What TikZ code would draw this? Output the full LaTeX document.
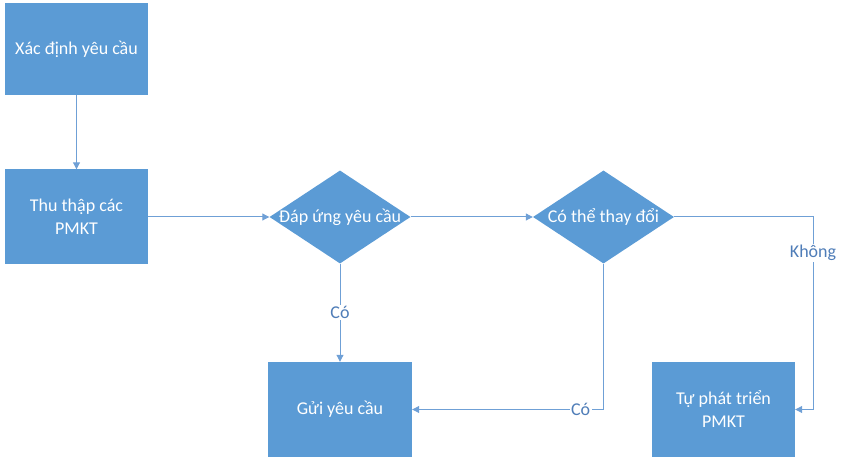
\documentclass[tikz,border=0pt]{standalone}
\usepackage{fontspec}
\setmainfont{Carlito}
\usetikzlibrary{shapes.geometric,arrows.meta}
\definecolor{boxblue}{HTML}{5B9BD5}
\definecolor{lineblue}{HTML}{6FA0D6}
\definecolor{labelblue}{HTML}{4F7DB8}
\begin{document}
\begin{tikzpicture}[x=1pt,y=-1pt,
  stepbox/.style={rectangle, fill=boxblue, draw=none, text=white, minimum width=143pt, minimum height=94pt, inner sep=0pt, align=center, font=\fontsize{18}{23}\selectfont},
  decbox/.style={diamond, fill=boxblue, draw=none, text=white, minimum width=141pt, minimum height=93pt, aspect=1.5, inner sep=0pt, font=\fontsize{18}{23}\selectfont},
  conn/.style={draw=lineblue, line width=1pt, -{Triangle[length=7pt,width=7pt]}},
  lbl/.style={fill=white, text=labelblue, inner sep=1.5pt, font=\fontsize{18}{23}\selectfont}]
\useasboundingbox (0,0) rectangle (847,465);
\node[stepbox, minimum height=92pt] (b1) at (76.5,49) {Xác định yêu cầu};
\node[stepbox, minimum height=95pt] (b2) at (76.5,217) {Thu thập các\\PMKT};
\node[decbox] (d1) at (340,217) {\makebox[0pt]{Đáp ứng yêu cầu}};
\node[decbox] (d2) at (603.5,217) {\makebox[0pt]{Có thể thay đổi}};
\node[stepbox, minimum width=144pt, minimum height=95pt] (b3) at (340,409.5) {Gửi yêu cầu};
\node[stepbox, minimum height=95pt] (b4) at (723.5,409.5) {Tự phát triển\\PMKT};
\coordinate (k) at (813,217);
\draw[conn] (b1) -- (b2);
\draw[conn] (b2) -- (d1);
\draw[conn] (d1) -- (d2);
\draw[conn] (d1) -- node[lbl]{Có} (b3);
\draw[conn] (d2.south) |- node[lbl,pos=0.56]{Có} (b3.east);
\draw[conn] (d2.east) -- (k) |- node[lbl,pos=0.094]{Không} (b4.east);
\end{tikzpicture}
\end{document}
